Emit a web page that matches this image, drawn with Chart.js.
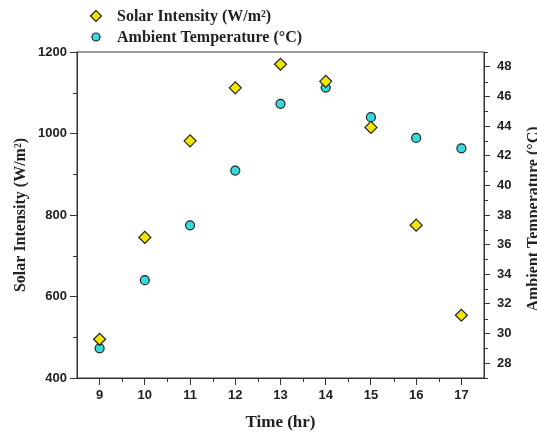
<!DOCTYPE html>
<html>
<head>
<meta charset="utf-8">
<script src="https://cdn.jsdelivr.net/npm/chart.js@4"></script>
<style>
  html, body { margin: 0; padding: 0; background: #fff; }
  #chart { display: block; }
</style>
</head>
<body>
<canvas id="chart" width="537" height="434"></canvas>
<script>
// Data
const hours = [9, 10, 11, 12, 13, 14, 15, 16, 17];
const solarIntensity = [495, 745, 982, 1112, 1170, 1128, 1015, 775, 554];
const ambientTemp = [29.0, 33.6, 37.3, 41.0, 45.5, 46.6, 44.6, 43.2, 42.5];

// Tick values
const xMajorTicks = [9, 10, 11, 12, 13, 14, 15, 16, 17];
const xMinorTicks = [9.5, 10.5, 11.5, 12.5, 13.5, 14.5, 15.5, 16.5];
const solarMajorTicks = [400, 600, 800, 1000, 1200];
const solarMinorTicks = [500, 700, 900, 1100];
const tempMajorTicks = [28, 30, 32, 34, 36, 38, 40, 42, 44, 46, 48];
const tempMinorTicks = [27, 29, 31, 33, 35, 37, 39, 41, 43, 45, 47, 49];

const solarLabel = 'Solar Intensity (W/m\u00B2)';
const tempLabel = 'Ambient Temperature (\u00B0C)';

const tickFont = { family: '"Liberation Sans", Arial, sans-serif', size: 13, weight: 'bold' };
const titleFont = { family: '"Liberation Serif", "Times New Roman", serif', size: 16, weight: 'bold' };

const diamondStyle = { pointStyle: 'rectRot', radius: 6, backgroundColor: '#F0E600', borderColor: '#222', borderWidth: 1.2 };
const circleStyle = { pointStyle: 'circle', radius: 4.5, backgroundColor: '#36D9DC', borderColor: '#222', borderWidth: 1.2 };

function setTicks(values) {
    return scale => { scale.ticks = values.map(v => ({ value: v })); };
}

const plainLabel = value => String(value);

// frame, minor ticks, right title, legend
const extrasPlugin = {
    id: 'extras',
    afterDraw(chart) {
        const ctx = chart.ctx;
        const area = chart.chartArea;
        const { x, y, y1 } = chart.scales;
        ctx.save();
        ctx.strokeStyle = '#333';
        ctx.lineWidth = 1;
        ctx.strokeRect(area.left, area.top, area.right - area.left, area.bottom - area.top);

        ctx.beginPath();
        xMinorTicks.forEach(v => {
            const px = Math.round(x.getPixelForValue(v)) + 0.5;
            ctx.moveTo(px, area.bottom);
            ctx.lineTo(px, area.bottom + 4);
        });
        solarMinorTicks.forEach(v => {
            const py = Math.round(y.getPixelForValue(v)) + 0.5;
            ctx.moveTo(area.left, py);
            ctx.lineTo(area.left - 4, py);
        });
        tempMinorTicks.forEach(v => {
            const py = Math.round(y1.getPixelForValue(v)) + 0.5;
            ctx.moveTo(area.right, py);
            ctx.lineTo(area.right + 4, py);
        });
        ctx.stroke();

        // right axis title, reading bottom to top
        ctx.fillStyle = '#222';
        ctx.font = 'bold 16px "Liberation Serif", "Times New Roman", serif';
        ctx.textAlign = 'center';
        ctx.textBaseline = 'middle';
        ctx.translate(534, (area.top + area.bottom) / 2 + 4);
        ctx.rotate(-Math.PI / 2);
        ctx.fillText(tempLabel, 0, 0);
        ctx.restore();

        // legend
        ctx.save();
        const items = [
            { text: solarLabel, style: diamondStyle, y: 16 },
            { text: tempLabel, style: circleStyle, y: 37 },
        ];
        ctx.font = 'bold 16px "Liberation Serif", "Times New Roman", serif';
        ctx.textAlign = 'left';
        ctx.textBaseline = 'middle';
        items.forEach(item => {
            ctx.fillStyle = item.style.backgroundColor;
            ctx.strokeStyle = item.style.borderColor;
            ctx.lineWidth = item.style.borderWidth;
            Chart.helpers.drawPoint(ctx, {
                pointStyle: item.style.pointStyle,
                radius: item.style.radius - 0.5,
                borderWidth: item.style.borderWidth,
                rotation: 0,
            }, 96, item.y);
            ctx.fillStyle = '#222';
            ctx.fillText(item.text, 117, item.y + 1);
        });
        ctx.restore();
    }
};

const ctx = document.getElementById('chart').getContext('2d');
new Chart(ctx, {
    type: 'scatter',
    data: {
        datasets: [
            {
                label: solarLabel,
                data: hours.map((h, i) => ({ x: h, y: solarIntensity[i] })),
                yAxisID: 'y',
                pointStyle: diamondStyle.pointStyle,
                pointRadius: diamondStyle.radius,
                pointBackgroundColor: diamondStyle.backgroundColor,
                pointBorderColor: diamondStyle.borderColor,
                pointBorderWidth: diamondStyle.borderWidth,
            },
            {
                label: tempLabel,
                data: hours.map((h, i) => ({ x: h, y: ambientTemp[i] })),
                yAxisID: 'y1',
                pointStyle: circleStyle.pointStyle,
                pointRadius: circleStyle.radius,
                pointBackgroundColor: circleStyle.backgroundColor,
                pointBorderColor: circleStyle.borderColor,
                pointBorderWidth: circleStyle.borderWidth,
            },
        ],
    },
    options: {
        responsive: false,
        animation: false,
        layout: { padding: { top: 52, left: 0, right: 0, bottom: 0 } },
        plugins: {
            legend: { display: false },
            tooltip: { enabled: false },
        },
        scales: {
            x: {
                type: 'linear',
                min: 8.5,
                max: 17.5,
                afterBuildTicks: setTicks(xMajorTicks),
                afterFit: scale => { scale.height = 56; },
                grid: { drawOnChartArea: false, tickLength: 7, color: '#333' },
                border: { color: '#333' },
                ticks: { font: tickFont, color: '#222', padding: 3, maxRotation: 0, callback: plainLabel },
                title: { display: true, text: 'Time (hr)', font: { ...titleFont, size: 17 }, color: '#222', padding: { top: 0, bottom: 1 } },
            },
            y: {
                type: 'linear',
                position: 'left',
                min: 400,
                max: 1200,
                afterBuildTicks: setTicks(solarMajorTicks),
                afterFit: scale => { scale.width = 77; },
                grid: { drawOnChartArea: false, tickLength: 7, color: '#333' },
                border: { color: '#333' },
                ticks: { font: tickFont, color: '#222', padding: 3, callback: plainLabel },
                title: { display: true, text: solarLabel, font: titleFont, color: '#222', padding: { top: 11, bottom: 0 } },
            },
            y1: {
                type: 'linear',
                position: 'right',
                min: 27,
                max: 49,
                afterBuildTicks: setTicks(tempMajorTicks),
                afterFit: scale => { scale.width = 53; },
                grid: { drawOnChartArea: false, tickLength: 6, color: '#333' },
                border: { color: '#333' },
                ticks: { font: tickFont, color: '#222', padding: 7, callback: plainLabel },
            },
        },
    },
    plugins: [extrasPlugin],
});
</script>
</body>
</html>
